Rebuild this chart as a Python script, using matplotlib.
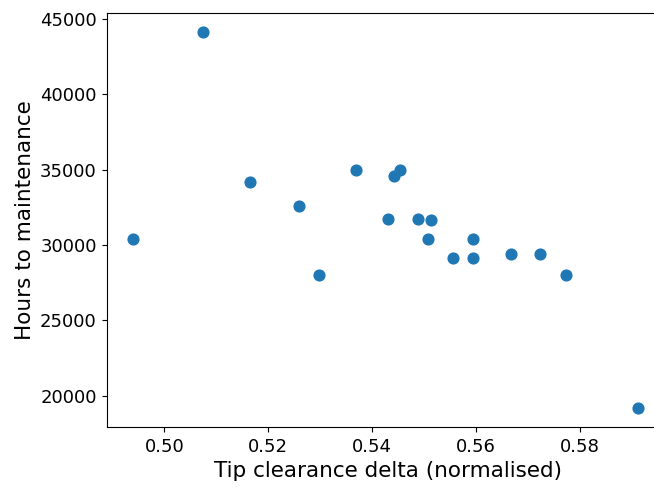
import matplotlib
matplotlib.use("Agg")
import matplotlib.pyplot as plt

# tip clearance delta (normalised) vs hours to maintenance
clearance = [0.4939, 0.5074, 0.5165, 0.5260, 0.5298, 0.5369, 0.5430, 0.5442,
             0.5453, 0.5488, 0.5507, 0.5513, 0.5556, 0.5594, 0.5594, 0.5667,
             0.5723, 0.5774, 0.5912]
hours = [30400, 44150, 34200, 32600, 28000, 34950, 31750, 34550,
         34950, 31750, 30400, 31650, 29150, 30400, 29150, 29400,
         29400, 28000, 19150]

fig = plt.figure(figsize=(6.54, 4.87), dpi=100)
# right edge of the axes sits past the figure edge (the original was cropped)
ax = fig.add_axes([0.164, 0.1226, 0.86, 0.8507])
ax.scatter(clearance, hours, s=60, color="#1f77b4")
ax.set_xlim(0.4890, 0.4890 + 0.86 * 654 / 5195)
ax.spines["right"].set_visible(False)
ax.set_xlabel("Tip clearance delta (normalised)", fontsize=15.5)
ax.set_ylabel("Hours to maintenance", fontsize=15.5)
ax.tick_params(labelsize=13, pad=4)
fig.savefig("out.png", dpi=100)
